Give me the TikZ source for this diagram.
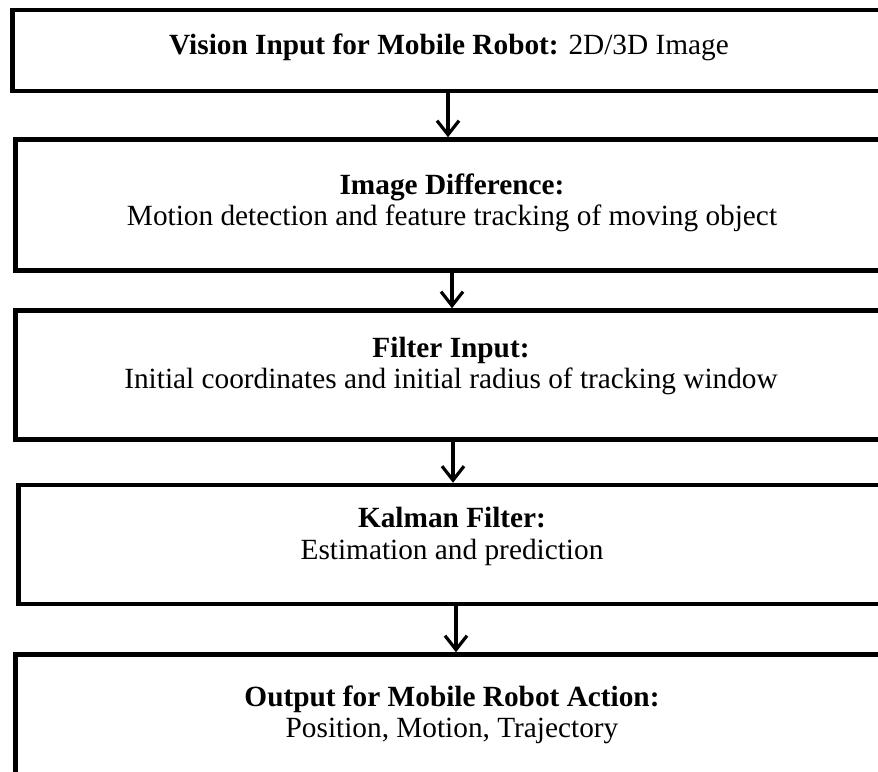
\documentclass[tikz,border=0pt]{standalone}
\usepackage{fontspec}
\setmainfont{Liberation Serif}
\usepackage{tikz}
\usetikzlibrary{arrows.meta}
\tikzset{
  flowbox/.style  = {draw,rectangle,line width=2.25pt,inner sep=0pt},
  flowtext/.style = {align=center,inner sep=0pt,font=\fontsize{14.65}{15.6}\selectfont},
  flowarr/.style  = {-{Straight Barb[length=7pt,width=11pt]},line width=1.6pt}
}

\begin{document}
\begin{tikzpicture}[x=0.5pt,y=-0.5pt]
  \clip (0,0) rectangle (878,771);
  % the five stages
  \node[flowbox,minimum width=436.5pt,minimum height=40.5pt] (vis)  at (449,50.5) {};
  \node[flowbox,minimum width=436.5pt,minimum height=65.5pt] (diff) at (452,205)  {};
  \node[flowbox,minimum width=435.5pt,minimum height=64.5pt] (filt) at (451,375)  {};
  \node[flowbox,minimum width=433.5pt,minimum height=59.5pt] (kal)  at (452,544.5) {};
  \node[flowbox,minimum width=436.5pt,minimum height=60.5pt] (out)  at (452,715)  {};
  \node[flowtext] (vis-t)  at ([yshift=1.75pt]vis.center) {\textbf{Vision Input for Mobile Robot:} 2D/3D Image};
  \node[flowtext] (diff-t) at ([yshift=1pt]diff.center)   {\textbf{Image Difference:}\\Motion detection and feature tracking of moving object};
  \node[flowtext] (filt-t) at ([yshift=4.5pt]filt.center) {\textbf{Filter Input:}\\Initial coordinates and initial radius of tracking window};
  \node[flowtext] (kal-t)  at ([yshift=4pt]kal.center)    {\textbf{Kalman Filter:}\\Estimation and prediction};
  \node[flowtext] (out-t)  at (out.center)                {\textbf{Output for Mobile Robot Action:}\\Position, Motion, Trajectory};
  % arrows between stages
  \coordinate (a1) at ([xshift=-0.5pt]vis.south);
  \coordinate (a2) at (diff.south);
  \coordinate (a3) at ([xshift=1pt]filt.south);
  \coordinate (a4) at ([xshift=2pt]kal.south);
  \draw[flowarr] (a1) -- (a1 |- diff.north);
  \draw[flowarr] (a2) -- (a2 |- filt.north);
  \draw[flowarr] (a3) -- (a3 |- kal.north);
  \draw[flowarr] (a4) -- (a4 |- out.north);
\end{tikzpicture}
\end{document}
